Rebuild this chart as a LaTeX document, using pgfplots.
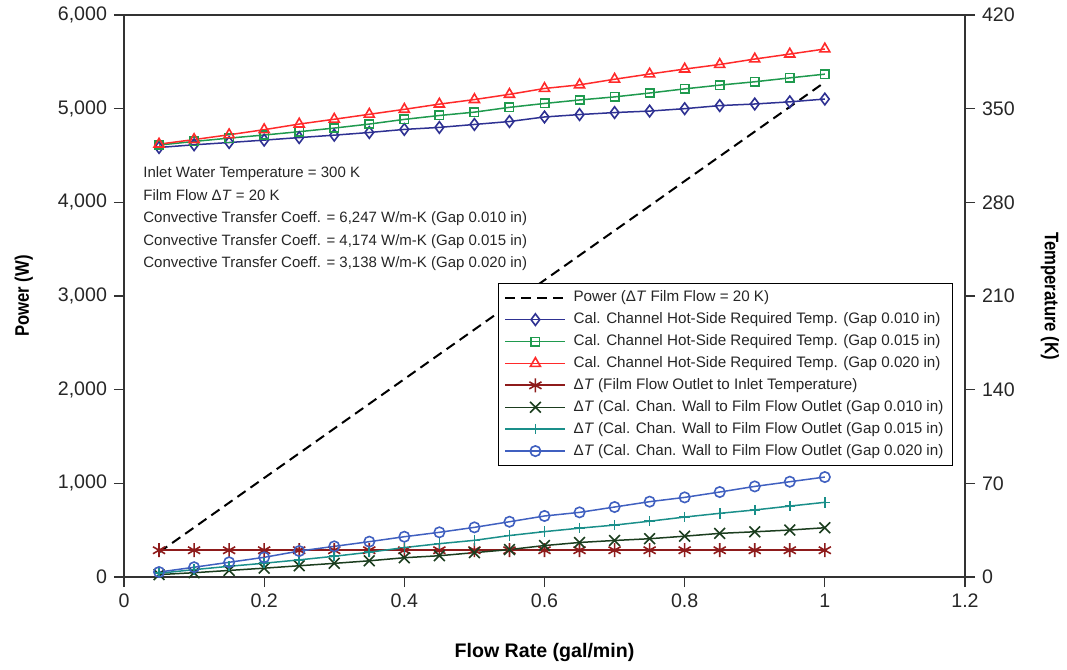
\documentclass[border=0pt]{standalone}
\usepackage{pgfplots}
\pgfplotsset{compat=1.18}
\usepackage{pgfplotstable}
\usepackage{graphicx}
\usepackage{fontspec}
\setmainfont{Liberation Sans}
\definecolor{cNavy}{HTML}{2E3192}
\definecolor{cGreen}{HTML}{1F9A4E}
\definecolor{cRed}{HTML}{FF2A2A}
\definecolor{cDRed}{HTML}{8E1B1B}
\definecolor{cDGreen}{HTML}{1B3D1E}
\definecolor{cTeal}{HTML}{1A8F8A}
\definecolor{cBlue}{HTML}{4060C0}
\definecolor{cAxis}{HTML}{333333}

\pgfplotstableread{
x    P     Td    Ts    Tt    F   W1   W2   W3
0.05 264   321.0 322.8 323.5 20  1.8  2.8  3.7
0.10 528   323.0 325.5 326.9 20  3.2  5.5  7.3
0.15 793   324.7 328.0 330.5 20  4.9  8.0  11.0
0.20 1057  326.5 330.3 334.3 20  6.6  10.3 14.7
0.25 1321  328.4 332.8 338.5 20  8.4  12.8 19.4
0.30 1585  330.2 335.5 342.1 20  10.2 15.5 22.9
0.35 1849  332.2 338.5 345.8 20  12.1 18.5 26.4
0.40 2113  334.5 342.0 349.5 20  14.4 22.0 30.1
0.45 2378  336.0 344.9 353.4 20  15.9 24.9 33.4
0.50 2642  338.2 347.4 356.8 20  18.2 27.4 37.1
0.55 2906  340.4 351.0 360.7 20  20.5 31.0 41.3
0.60 3170  343.8 353.9 365.1 20  23.5 33.9 45.6
0.65 3434  345.6 356.5 367.8 20  25.8 36.5 48.3
0.70 3698  347.1 358.8 372.0 20  27.3 38.8 52.3
0.75 3962  348.2 361.7 375.9 20  28.6 41.7 56.3
0.80 4227  350.0 364.8 379.6 20  30.5 44.8 59.5
0.85 4491  352.3 367.6 383.0 20  32.6 47.6 63.5
0.90 4755  353.5 370.1 387.1 20  33.8 50.1 67.7
0.95 5019  355.1 373.0 390.8 20  35.1 53.0 71.2
1.00 5283  357.2 375.8 394.6 20  36.8 55.8 74.7
}\data

\pgfplotsset{
  common/.style={
    scale only axis, width=420.5pt, height=281pt,
    at={(0,0)}, anchor=south west,
    xmin=0, xmax=1.2,
    tick align=outside,
    major tick length=5pt,
    major tick style={line width=0.6pt, color=cAxis},
    axis line style={line width=1pt, color=cAxis},
    tick label style={font=\fontsize{9.8}{11}\selectfont, text=black!85},
    /pgf/number format/assume math mode=true,
    /pgf/number format/1000 sep={,},
    scaled ticks=false,
  },
}

\begin{document}
\begin{tikzpicture}
\path[use as bounding box] (-62pt,-46.5pt) rectangle (471.5pt,288.5pt);
\begin{axis}[common,
  ymin=0, ymax=6000,
  xtick={0,0.2,0.4,0.6,0.8,1,1.2},
  ytick={0,1000,2000,3000,4000,5000,6000},
  xtick pos=bottom, ytick pos=left,
  xlabel={\fontsize{9.8}{11}\selectfont\bfseries Flow Rate (gal/min)},
  xlabel style={at={(axis description cs:0.5,-0.1335)}, anchor=center},
  ylabel={\scalebox{0.85}[1]{\fontsize{9.8}{11}\selectfont\bfseries Power (W)}},
  ylabel style={at={(axis description cs:-0.119,0.5)}, anchor=center},
]
\addplot[black, line width=1pt, dash pattern=on 5pt off 3pt] table[x=x, y=P] {\data};
\node[anchor=north west, align=left, inner sep=0pt, text=black!85,
  font=\fontsize{7.5}{11.25}\selectfont] at (axis description cs:0.0226,0.7304)
  {Inlet Water Temperature = 300 K\\
   Film Flow Δ\textit{T} = 20 K\\
   Convective Transfer Coeff. = 6,247 W/m-K (Gap 0.010 in)\\
   Convective Transfer Coeff. = 4,174 W/m-K (Gap 0.015 in)\\
   Convective Transfer Coeff. = 3,138 W/m-K (Gap 0.020 in)};
\end{axis}
\begin{axis}[common,
  ymin=0, ymax=420,
  ytick={0,70,140,210,280,350,420},
  axis x line=none, axis y line*=right,
  ylabel={\scalebox{0.85}[1]{\fontsize{9.8}{11}\selectfont\bfseries Temperature (K)}},
  ylabel style={at={(axis description cs:1.101,0.5)}, anchor=center, rotate=180},
  legend cell align=left,
  legend style={at={(axis description cs:0.9857,0.523)}, anchor=north east,
    font=\fontsize{7.6}{9}\selectfont, draw=black, fill=white,
    row sep=0.75pt, inner xsep=3pt, inner ysep=2pt, nodes={inner sep=1.6pt, text=black!85}},
  legend image code/.code={\draw[mark repeat=2, mark phase=2, #1] plot coordinates {(0pt,0pt) (15pt,0pt) (30pt,0pt)};},
]
\addlegendimage{black, line width=1pt, dash pattern=on 5pt off 3pt}
\addlegendentry{\hspace{2pt}Power (Δ\textit{T} Film Flow = 20 K)}
\addplot[cNavy, line width=0.75pt, mark=diamond, mark size=2.9pt, mark options={fill=white, line width=0.8pt}] table[x=x, y=Td] {\data};
\addlegendentry{\hspace{2pt}Cal. Channel Hot-Side Required Temp. (Gap 0.010 in)}
\addplot[cGreen, line width=0.75pt, mark=square, mark size=2.1pt, mark options={fill=white, line width=0.8pt}] table[x=x, y=Ts] {\data};
\addlegendentry{\hspace{2pt}Cal. Channel Hot-Side Required Temp. (Gap 0.015 in)}
\addplot[cRed, line width=0.75pt, mark=triangle, mark size=2.9pt, mark options={fill=white, line width=0.8pt}] table[x=x, y=Tt] {\data};
\addlegendentry{\hspace{2pt}Cal. Channel Hot-Side Required Temp. (Gap 0.020 in)}
\addplot[cDRed, line width=0.85pt, mark=asterisk, mark size=3.5pt, mark options={line width=0.8pt}] table[x=x, y=F] {\data};
\addlegendentry{\hspace{2pt}Δ\textit{T} (Film Flow Outlet to Inlet Temperature)}
\addplot[cDGreen, line width=0.75pt, mark=x, mark size=3.8pt, mark options={line width=0.8pt}] table[x=x, y=W1] {\data};
\addlegendentry{\hspace{2pt}Δ\textit{T} (Cal. Chan. Wall to Film Flow Outlet (Gap 0.010 in)}
\addplot[cTeal, line width=0.75pt, mark=+, mark size=2.6pt, mark options={line width=0.8pt}] table[x=x, y=W2] {\data};
\addlegendentry{\hspace{2pt}Δ\textit{T} (Cal. Chan. Wall to Film Flow Outlet (Gap 0.015 in)}
\addplot[cBlue, line width=0.75pt, mark=o, mark size=2.6pt, mark options={line width=0.8pt}] table[x=x, y=W3] {\data};
\addlegendentry{\hspace{2pt}Δ\textit{T} (Cal. Chan. Wall to Film Flow Outlet (Gap 0.020 in)}
\end{axis}
\end{tikzpicture}
\end{document}
